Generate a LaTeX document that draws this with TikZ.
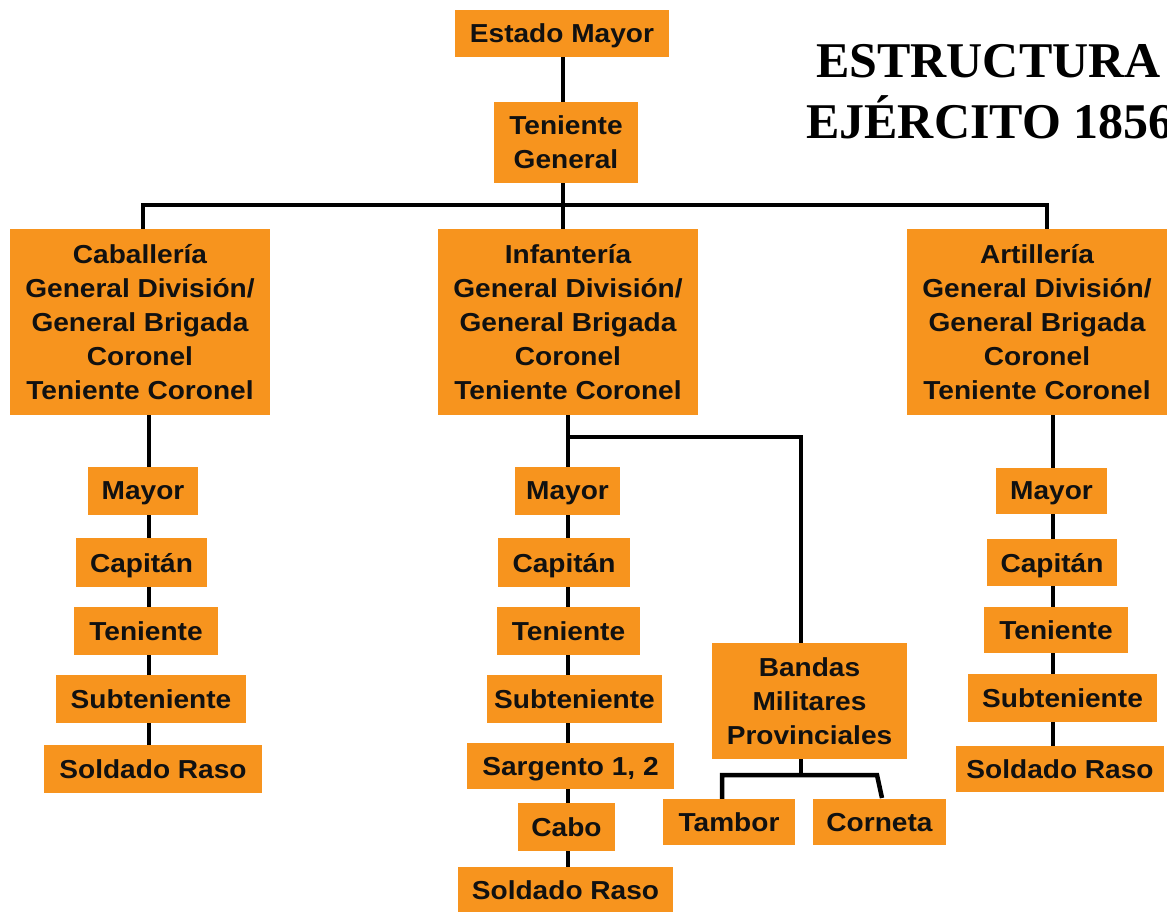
\documentclass[tikz,border=0pt]{standalone}
\usepackage{fontspec}
\setmainfont{Liberation Sans}
\newfontfamily\boxfont{Liberation Sans}[FakeStretch=1.08]
\newfontfamily\titlefont{Liberation Serif}
\definecolor{boxorange}{HTML}{F7941E}
\definecolor{inkblack}{HTML}{111111}
\begin{document}
\begin{tikzpicture}[x=1pt,y=-1pt,
  rank/.style={fill=boxorange, draw=none, inner sep=0pt, align=center,
    text=inkblack, text depth=0pt, font=\boxfont\bfseries\fontsize{26}{34}\selectfont},
  link/.style={draw=black, line width=4.5pt},
  titletext/.style={inner sep=0pt, anchor=base west, text=black,
    font=\titlefont\bfseries\fontsize{50}{58}\selectfont}]
\useasboundingbox (0,0) rectangle (1167,911);
\clip (0,0) rectangle (1167,911);

% title
\node[titletext] (t1) at (816,77) {ESTRUCTURA};
\node[titletext] (t2) at (806,138) {EJÉRCITO 1856};

% top
\node[rank, minimum width=214pt, minimum height=47pt] (em) at (562,33.5) {Estado Mayor};
\node[rank, minimum width=144pt, minimum height=81pt] (tg) at (566,142.5) {Teniente\\General};

% branches
\node[rank, minimum width=260pt, minimum height=186pt] (cab) at (140,322)
  {Caballería\\General División/\\General Brigada\\Coronel\\Teniente Coronel};
\node[rank, minimum width=260pt, minimum height=186pt] (inf) at (568,322)
  {Infantería\\General División/\\General Brigada\\Coronel\\Teniente Coronel};
\node[rank, minimum width=260pt, minimum height=186pt] (art) at (1037,322)
  {Artillería\\General División/\\General Brigada\\Coronel\\Teniente Coronel};

% left column
\node[rank, minimum width=110pt, minimum height=48pt] (cM) at (143,491) {Mayor};
\node[rank, minimum width=131pt, minimum height=49pt] (cC) at (141.5,562.5) {Capitán};
\node[rank, minimum width=144pt, minimum height=48pt] (cT) at (146,631) {Teniente};
\node[rank, minimum width=190pt, minimum height=48pt] (cS) at (151,699) {Subteniente};
\node[rank, minimum width=218pt, minimum height=48pt] (cR) at (153,769) {Soldado Raso};

% middle column
\node[rank, minimum width=105pt, minimum height=48pt] (iM) at (567.5,491) {Mayor};
\node[rank, minimum width=132pt, minimum height=49pt] (iC) at (564,562.5) {Capitán};
\node[rank, minimum width=143pt, minimum height=48pt] (iT) at (568.5,631) {Teniente};
\node[rank, minimum width=175pt, minimum height=48pt] (iS) at (574.5,699) {Subteniente};
\node[rank, minimum width=207pt, minimum height=46pt] (iG) at (570.5,766) {Sargento 1, 2};
\node[rank, minimum width=97pt, minimum height=48pt] (iK) at (566.5,827) {Cabo};
\node[rank, minimum width=215pt, minimum height=46pt] (iR) at (565.5,890) {Soldado Raso};

% right column
\node[rank, minimum width=111pt, minimum height=46pt] (aM) at (1051.5,491) {Mayor};
\node[rank, minimum width=130pt, minimum height=47pt] (aC) at (1052,562.5) {Capitán};
\node[rank, minimum width=144pt, minimum height=46pt] (aT) at (1056,630) {Teniente};
\node[rank, minimum width=189pt, minimum height=48pt] (aS) at (1062.5,698) {Subteniente};
\node[rank, minimum width=208pt, minimum height=46pt] (aR) at (1060,769) {Soldado Raso};

% bands
\node[rank, minimum width=195pt, minimum height=116pt] (ban) at (809.5,701) {Bandas\\Militares\\Provinciales};
\node[rank, minimum width=132pt, minimum height=46pt] (tam) at (729,822) {Tambor};
\node[rank, minimum width=133pt, minimum height=46pt] (cor) at (879.5,822) {Corneta};

% line guides
\coordinate (xTop) at (563,0);
\coordinate (xL) at (143,0);
\coordinate (xR) at (1047,0);
\coordinate (busY) at (0,205);
\coordinate (cx) at (149,0);
\coordinate (ix) at (568,0);
\coordinate (ax) at (1053,0);
\coordinate (bx) at (801,0);
\coordinate (branchY) at (0,437);
\coordinate (subY) at (0,775);
\coordinate (tamx) at (722,0);
\coordinate (corTop) at (882,798);
\coordinate (corKnee) at (877,775);

% connectors top
\draw[link] (em.south -| xTop) -- (tg.north -| xTop);
\draw[link] (tg.south -| xTop) -- (busY -| xTop);
\draw[link] (xL |- cab.north) -- (busY -| xL) -- (busY -| xR) -- (xR |- art.north);
\draw[link] (busY -| xTop) -- (inf.north -| xTop);

% left column
\draw[link] (cab.south -| cx) -- (cM.north -| cx);
\draw[link] (cM.south -| cx) -- (cC.north -| cx);
\draw[link] (cC.south -| cx) -- (cT.north -| cx);
\draw[link] (cT.south -| cx) -- (cS.north -| cx);
\draw[link] (cS.south -| cx) -- (cR.north -| cx);

% middle column
\draw[link] (inf.south -| ix) -- (iM.north -| ix);
\draw[link] (iM.south -| ix) -- (iC.north -| ix);
\draw[link] (iC.south -| ix) -- (iT.north -| ix);
\draw[link] (iT.south -| ix) -- (iS.north -| ix);
\draw[link] (iS.south -| ix) -- (iG.north -| ix);
\draw[link] (iG.south -| ix) -- (iK.north -| ix);
\draw[link] (iK.south -| ix) -- (iR.north -| ix);

% right column
\draw[link] (art.south -| ax) -- (aM.north -| ax);
\draw[link] (aM.south -| ax) -- (aC.north -| ax);
\draw[link] (aC.south -| ax) -- (aT.north -| ax);
\draw[link] (aT.south -| ax) -- (aS.north -| ax);
\draw[link] (aS.south -| ax) -- (aR.north -| ax);

% bands branch
\draw[link] (branchY -| ix) -- (branchY -| bx) -- (ban.north -| bx);
\draw[link] (ban.south -| bx) -- (subY -| bx);
\draw[link] (tam.north -| tamx) -- (subY -| tamx) -- (corKnee) -- (corTop);
\end{tikzpicture}
\end{document}
